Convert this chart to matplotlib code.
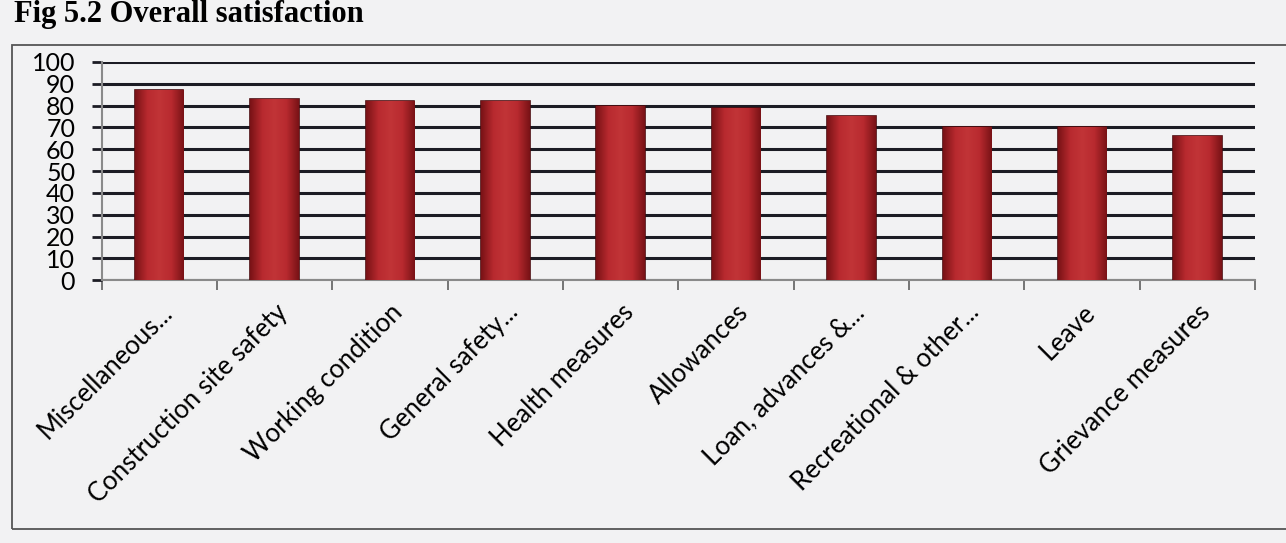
import matplotlib.pyplot as plt
import matplotlib.transforms as mtransforms
import numpy as np
from matplotlib.colors import LinearSegmentedColormap
from matplotlib.patches import Rectangle

# data
categories = ['Miscellaneous...', 'Construction site safety', 'Working condition',
              'General safety...', 'Health measures', 'Allowances',
              'Loan, advances &...', 'Recreational & other...', 'Leave',
              'Grievance measures']
satisfaction = [87, 83, 82, 82, 80, 79, 75, 70, 70, 66]
y_ticks = list(range(0, 101, 10))
title = 'Fig 5.2 Overall satisfaction'

paper = '#f2f2f3'
label_font = ['Lato', 'DejaVu Sans']

fig = plt.figure(figsize=(12.86, 5.43), dpi=100)
fig.patch.set_facecolor(paper)

# chart-area frame
fig.patches.append(Rectangle((0.009, 0.025), 1.2, 0.893, transform=fig.transFigure,
                             fill=False, edgecolor='#555555', linewidth=1.3))
fig.text(0.011, 0.959, title, fontsize=22, fontweight='bold',
         family=['Liberation Serif', 'DejaVu Serif'], va='baseline')

ax = fig.add_axes([0.079, 0.484, 0.897, 0.402])
ax.set_facecolor(paper)

x = np.arange(len(categories))
bars = ax.bar(x, satisfaction, width=0.42, color='#b3262c', edgecolor='#4d0c0f',
              linewidth=1.2, zorder=3)

# bevel-like shading across each bar
shade = LinearSegmentedColormap.from_list('shade', ['#7a1216', '#b82a2f', '#c13437', '#b82a2f', '#7a1216'])
grad = np.linspace(0, 1, 64).reshape(1, -1)
for b in bars:
    im = ax.imshow(grad, cmap=shade, aspect='auto', zorder=3.5,
                   extent=(b.get_x(), b.get_x() + b.get_width(), 0, b.get_height()))
    im.set_clip_path(b)

ax.set_xlim(-0.5, len(categories) - 0.5)
ax.set_ylim(0, 100)
ax.set_yticks(y_ticks)
ax.yaxis.grid(True, color='#1c1c24', linewidth=2.2)
ax.set_axisbelow(True)

for side in ['top', 'right']:
    ax.spines[side].set_visible(False)
for side in ['left', 'bottom']:
    ax.spines[side].set_color('#8a8a8a')
    ax.spines[side].set_linewidth(1.5)

ax.set_xticks(x)
ax.set_xticklabels(categories, rotation=45, ha='right', va='top',
                   rotation_mode='anchor', fontsize=18.5, family=label_font)
shift = mtransforms.ScaledTranslation(0.07, 0, fig.dpi_scale_trans)
for lab in ax.get_xticklabels():
    lab.set_transform(lab.get_transform() + shift)
ax.set_xticks(np.arange(-0.5, len(categories), 1), minor=True)
ax.tick_params(axis='x', which='major', length=0, pad=14)
ax.tick_params(axis='x', which='minor', length=7, width=1.3, color='#6a6a6a', direction='out')
ax.tick_params(axis='y', length=7, width=2, color='#1c1c24', direction='out', pad=12)
for lab in ax.get_yticklabels():
    lab.set_fontsize(18)
    lab.set_family(label_font)

fig.savefig('out.png', dpi=100, facecolor=paper)
